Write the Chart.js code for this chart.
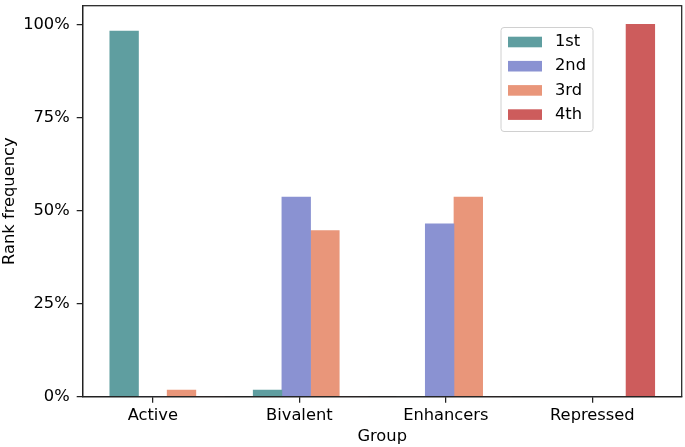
<!DOCTYPE html>
<html lang="en">
<head>
    <meta charset="UTF-8">
    <title>Rank frequency by group</title>
    <script src="https://cdn.jsdelivr.net/npm/chart.js"></script>
    <style>
        body {
            margin: 0;
            padding: 0;
            background: #fff;
        }

        #wrap {
            width: 685px;
            height: 447px;
            position: relative;
        }
    </style>
</head>
<body>
    <div id="wrap">
        <canvas id="rankChart"></canvas>
    </div>

    <script>
        // data
        const groups = ['Active', 'Bivalent', 'Enhancers', 'Repressed'];
        const ranks = ['1st', '2nd', '3rd', '4th'];
        const first = [98.2, 1.8, 0, 0];
        const second = [0, 53.6, 46.4, 0];
        const third = [1.8, 44.6, 53.6, 0];
        const fourth = [0, 0, 0, 100];
        const yTicks = [0, 25, 50, 75, 100];

        const colors = ['#5f9ea0', '#8a92d2', '#e9967a', '#cd5c5c'];
        const series = [first, second, third, fourth];

        const barStep = 0.2;      // bar width in group units
        const tickStep = 1.0216;  // ticks sit a bit wider apart than the groups in the original
        const fontFam = "'DejaVu Sans', sans-serif";
        const fs = 16.3;

        const datasets = series.map((vals, j) => ({
            label: ranks[j],
            data: vals.map((v, i) => ({ x: i + (j - 1) * barStep, y: v })),
            backgroundColor: colors[j],
            borderWidth: 0,
            categoryPercentage: 1,
            barPercentage: 1,
            grouped: false
        }));

        // box around the plot + legend inside
        const framePlugin = {
            id: 'frame',
            afterDraw(chart) {
                const ctx = chart.ctx;
                const a = chart.chartArea;
                ctx.save();
                ctx.strokeStyle = '#222';
                ctx.lineWidth = 1.25;
                ctx.strokeRect(a.left, a.top, a.right - a.left, a.bottom - a.top);

                // legend
                const lx = 501, ly = 27.5, lw = 92, lh = 104;
                ctx.fillStyle = 'rgba(255,255,255,0.8)';
                ctx.strokeStyle = '#d0d0d0';
                ctx.lineWidth = 1;
                ctx.beginPath();
                ctx.roundRect(lx, ly, lw, lh, 3);
                ctx.fill();
                ctx.stroke();

                ctx.font = fs + 'px ' + fontFam;
                ctx.textBaseline = 'middle';
                chart.data.datasets.forEach((ds, k) => {
                    const cy = ly + 14.5 + k * 24.2;
                    ctx.fillStyle = ds.backgroundColor;
                    ctx.fillRect(lx + 7, cy - 5.3, 34, 10.6);
                    ctx.fillStyle = '#000';
                    ctx.fillText(ds.label, lx + 54, cy);
                });
                ctx.restore();
            }
        };

        new Chart(document.getElementById('rankChart'), {
            type: 'bar',
            data: { datasets: datasets },
            options: {
                responsive: true,
                maintainAspectRatio: false,
                animation: false,
                layout: { padding: { top: 5.7, right: 3.3, left: 0, bottom: 0 } },
                plugins: {
                    legend: { display: false },
                    tooltip: { enabled: false }
                },
                scales: {
                    x: {
                        type: 'linear',
                        offset: false,
                        min: -0.489,
                        max: 3.688,
                        afterBuildTicks: (scale) => {
                            scale.ticks = groups.map((g, i) => ({ value: i * tickStep }));
                        },
                        afterFit: (scale) => {
                            scale.height = 50.3;
                            scale.paddingLeft = 0;
                            scale.paddingRight = 0;
                        },
                        ticks: {
                            color: '#000',
                            padding: 3,
                            maxRotation: 0,
                            autoSkip: false,
                            font: { family: fontFam, size: fs },
                            callback: (v, i) => groups[i]
                        },
                        grid: {
                            offset: false,
                            drawOnChartArea: false,
                            drawTicks: true,
                            tickLength: 6,
                            color: '#222',
                            lineWidth: 1.25
                        },
                        border: { display: true, color: '#222', width: 1.25 },
                        title: {
                            display: true,
                            text: 'Group',
                            color: '#000',
                            padding: { top: 0, bottom: 0 },
                            font: { family: fontFam, size: fs }
                        }
                    },
                    y: {
                        min: 0,
                        max: 105,
                        afterBuildTicks: (scale) => {
                            scale.ticks = yTicks.map(v => ({ value: v }));
                        },
                        afterFit: (scale) => {
                            scale.width = 82.7;
                            scale.paddingTop = 0;
                            scale.paddingBottom = 0;
                        },
                        ticks: {
                            color: '#000',
                            padding: 7,
                            font: { family: fontFam, size: fs },
                            callback: (v) => v + '%'
                        },
                        grid: {
                            drawOnChartArea: false,
                            drawTicks: true,
                            tickLength: 6,
                            color: '#222',
                            lineWidth: 1.25
                        },
                        border: { display: true, color: '#222', width: 1.25 },
                        title: {
                            display: true,
                            text: 'Rank frequency',
                            color: '#000',
                            padding: { top: 0, bottom: 0 },
                            font: { family: fontFam, size: fs }
                        }
                    }
                }
            },
            plugins: [framePlugin]
        });
    </script>
</body>
</html>
